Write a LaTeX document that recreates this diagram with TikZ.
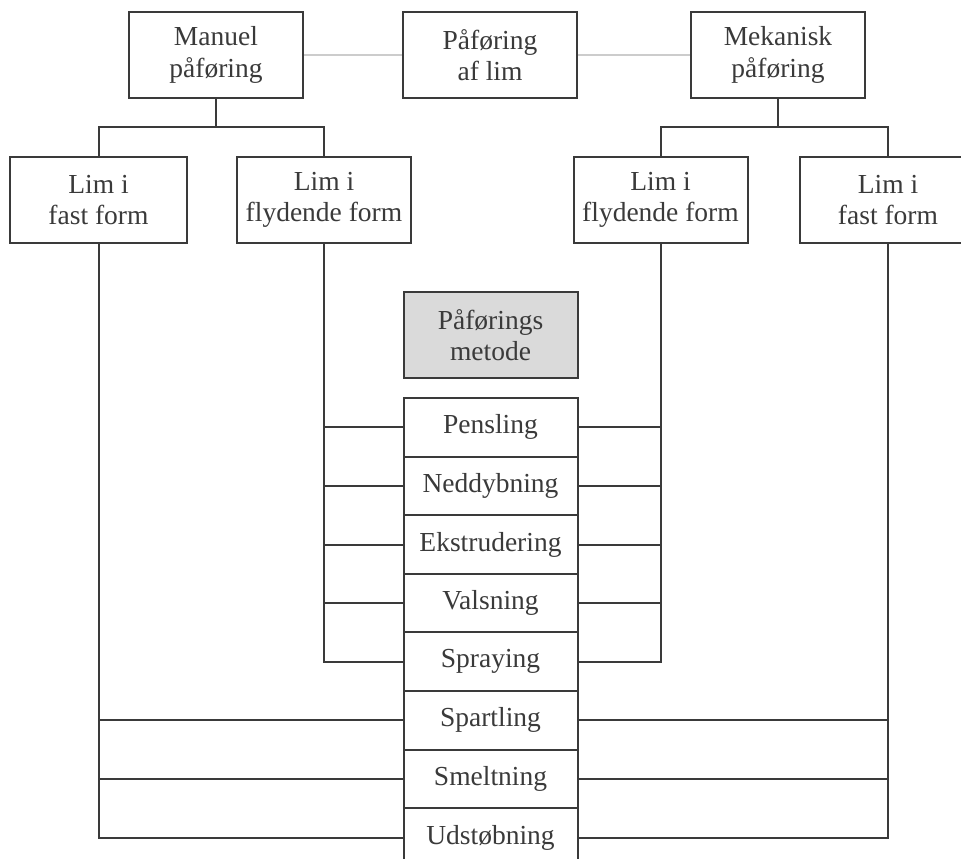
\documentclass[tikz,border=0pt]{standalone}
\usepackage{fontspec}
\setmainfont{Liberation Serif}
\usepackage{xcolor}
\usepackage{tikz}
\definecolor{Ink}      {HTML}{3A3A3A}
\definecolor{LinkGrey} {HTML}{CCCCCC}
\definecolor{BoxGrey}  {HTML}{DADADA}

\tikzset{
  box/.style={draw=Ink, line width=0.8pt, fill=white, text=Ink, align=center,
              minimum width=69.6pt, minimum height=34.4pt, inner sep=0pt,
              font=\fontsize{11}{12.6}\selectfont},
  item/.style={box, minimum height=23.4pt},
  link/.style={line width=0.8pt, Ink},
  toplink/.style={line width=1.1pt, LinkGrey},
}

\begin{document}
\begin{tikzpicture}[x=0.4pt, y=-0.4pt]

  \clip (0,0) rectangle (961,859);

  % ===== TOP ROW =====
  \node[box] (manual) at (216,55)  {Manuel\\påføring};
  \node[box] (paa)    at (490,55)  {Påføring\\af lim};
  \node[box] (mek)    at (778,55)  {Mekanisk\\påføring};
  \draw[toplink] (manual.east) -- (paa.west);
  \draw[toplink] (paa.east) -- (mek.west);

  % ===== GLUE FORM =====
  \node[box, minimum width=70.8pt] (fastL) at (98.5,200) {Lim i\\fast form};
  \node[box] (flydL) at (324,200)   {Lim i\\flydende form};
  \node[box] (flydR) at (660.5,200) {Lim i\\flydende form};
  \node[box, minimum width=70.8pt] (fastR) at (888,200) {Lim i\\fast form};

  \coordinate (mbus) at (216,127);
  \coordinate (kbus) at (778,127);
  \draw[link] (manual.south) -- (mbus);
  \draw[link] (fastL.north) |- (mbus) -| (flydL.north);
  \draw[link] (mek.south) -- (kbus);
  \draw[link] (flydR.north) |- (kbus) -| (fastR.north);

  % ===== METHODS =====
  \node[box, fill=BoxGrey] (meth) at (490.5,335) {Påførings\\metode};
  \foreach \i/\lab in {1/Pensling,2/Neddybning,3/Ekstrudering,4/Valsning,
                       5/Spraying,6/Spartling,7/Smeltning,8/Udstøbning}{
    \node[item] (m\i) at (490.5,398+58.6*\i-29.3) {\lab};
  }

  % liquid glue: both sides
  \foreach \i in {1,...,5}{
    \draw[link] (flydL.south) |- (m\i.west);
    \draw[link] (flydR.south) |- (m\i.east);
  }
  % solid glue: both sides
  \foreach \i in {6,7,8}{
    \draw[link] (fastL.south) |- (m\i.west);
    \draw[link] (fastR.south) |- (m\i.east);
  }

\end{tikzpicture}
\end{document}
